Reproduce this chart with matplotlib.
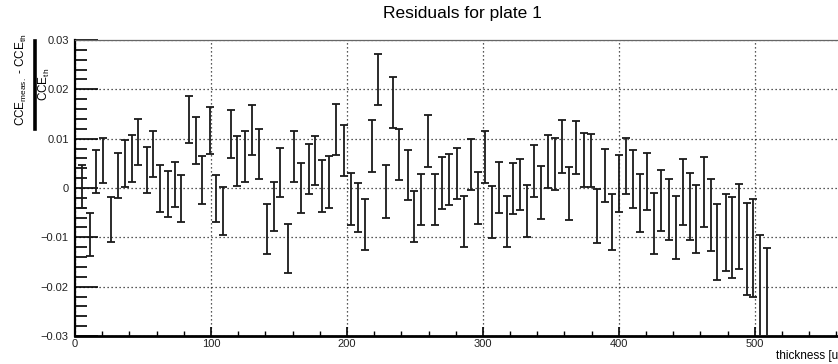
import matplotlib
matplotlib.use("Agg")
import matplotlib.pyplot as plt
from matplotlib.ticker import MultipleLocator, FixedLocator
from matplotlib.lines import Line2D

plt.rcParams['font.family'] = ['Liberation Sans', 'DejaVu Sans']
plt.rcParams['mathtext.fontset'] = 'custom'
plt.rcParams['mathtext.rm'] = 'Liberation Sans'
plt.rcParams['mathtext.it'] = 'Liberation Sans:italic'

# ---- data ----
thickness = [5.1, 11.2, 15.7, 20.6, 26.5, 31.6, 37.0, 41.9, 46.7, 52.9,
             57.3, 62.2, 68.1, 73.2, 78.1, 83.5, 88.9, 93.3, 99.4, 103.9,
             109.2, 114.9, 119.5, 125.2, 130.1, 135.5, 141.0, 146.0, 150.9, 156.5,
             161.4, 166.1, 172.2, 176.6, 181.5, 187.1, 192.0, 197.9, 202.9, 208.0,
             213.4, 218.7, 223.1, 228.8, 234.2, 238.6, 244.7, 249.4, 254.5, 259.9,
             264.8, 270.2, 275.3, 280.6, 286.3, 291.3, 296.2, 301.6, 306.5, 311.8,
             317.5, 321.9, 327.3, 332.6, 337.8, 342.7, 348.1, 353.0, 357.9, 363.5,
             368.4, 374.5, 379.2, 383.7, 389.8, 394.7, 400.0, 405.2, 410.6, 415.5,
             420.8, 426.0, 430.9, 436.8, 441.7, 447.3, 452.2, 456.6, 462.7, 467.4,
             472.3, 478.5, 483.3, 488.2, 493.9, 498.8, 503.7, 509.3]

residual = [0.0003, -0.0094, 0.0034, 0.0056, -0.0064, 0.0025, 0.0050, 0.0060, 0.0093, 0.0036,
            0.0069, -0.0001, -0.0012, 0.0007, -0.0021, 0.0139, 0.0096, 0.0016, 0.0117, -0.0021,
            -0.0046, 0.0110, 0.0055, 0.0064, 0.0117, 0.0069, -0.0083, -0.0038, 0.0032, -0.0122,
            0.0064, 0.0000, 0.0038, 0.0056, 0.0004, 0.0012, 0.0118, 0.0076, -0.0022, -0.0040,
            -0.0074, 0.0085, 0.0220, -0.0007, 0.0173, 0.0068, 0.0027, -0.0058, -0.0023, 0.0095,
            -0.0023, 0.0010, 0.0017, 0.0029, -0.0068, 0.0047, -0.0020, 0.0063, -0.0049, 0.0001,
            -0.0068, -0.0001, 0.0007, -0.0046, 0.0035, -0.0009, 0.0054, 0.0048, 0.0084, -0.0011,
            0.0082, 0.0057, 0.0056, -0.0057, 0.0026, -0.0069, 0.0009, 0.0044, 0.0019, -0.0031,
            0.0013, -0.0072, -0.0025, -0.0043, -0.0080, -0.0008, -0.0038, -0.0062, -0.0008, -0.0054,
            -0.0110, -0.0090, -0.0101, -0.0078, -0.0124, -0.0122, -0.0211, -0.0262]

error = [0.0044, 0.0044, 0.0044, 0.0045, 0.0046, 0.0046, 0.0047, 0.0047, 0.0046, 0.0047,
         0.0047, 0.0047, 0.0047, 0.0046, 0.0048, 0.0048, 0.0048, 0.0048, 0.0048, 0.0048,
         0.0049, 0.0049, 0.0050, 0.0051, 0.0051, 0.0050, 0.0050, 0.0050, 0.0050, 0.0050,
         0.0051, 0.0050, 0.0051, 0.0050, 0.0052, 0.0052, 0.0052, 0.0052, 0.0052, 0.0050,
         0.0052, 0.0053, 0.0052, 0.0053, 0.0052, 0.0052, 0.0051, 0.0052, 0.0052, 0.0052,
         0.0052, 0.0053, 0.0052, 0.0052, 0.0052, 0.0052, 0.0052, 0.0053, 0.0053, 0.0052,
         0.0052, 0.0052, 0.0052, 0.0053, 0.0053, 0.0053, 0.0053, 0.0053, 0.0053, 0.0053,
         0.0054, 0.0054, 0.0054, 0.0054, 0.0054, 0.0056, 0.0057, 0.0057, 0.0059, 0.0059,
         0.0058, 0.0061, 0.0062, 0.0062, 0.0064, 0.0066, 0.0068, 0.0069, 0.0071, 0.0073,
         0.0077, 0.0078, 0.0082, 0.0086, 0.0093, 0.0099, 0.0115, 0.0140]

x_ticks = [0, 100, 200, 300, 400, 500]
x_tick_labels = ['0', '100', '200', '300', '400', '500']
y_ticks = [-0.03, -0.02, -0.01, 0.0, 0.01, 0.02, 0.03]
y_tick_labels = ['\u22120.03', '\u22120.02', '\u22120.01', '0', '0.01', '0.02', '0.03']

W, H = 838, 364
fig = plt.figure(figsize=(W / 100, H / 100), dpi=100)
ax = fig.add_axes([75 / W, (H - 336) / H, (850 - 75) / W, (336 - 40) / H])

ax.errorbar(thickness, residual, yerr=error, fmt='none', ecolor='#1a1a1a',
            elinewidth=1.3, capsize=2.6, capthick=1.3, zorder=3)

ax.set_xlim(0, 570)
ax.set_ylim(-0.03, 0.03)
ax.xaxis.set_major_locator(FixedLocator(x_ticks))
ax.set_xticklabels(x_tick_labels)
ax.yaxis.set_major_locator(FixedLocator(y_ticks))
ax.set_yticklabels(y_tick_labels)
ax.xaxis.set_minor_locator(MultipleLocator(20))
ax.yaxis.set_minor_locator(MultipleLocator(0.002))

ax.tick_params(axis='both', which='both', direction='in', top=False, right=False,
               labelsize=8, colors='black', labelcolor='#222222')
ax.tick_params(axis='y', which='major', length=16.5, width=1.2, pad=4.5)
ax.tick_params(axis='y', which='minor', length=8.3, width=1.2)
ax.tick_params(axis='x', which='major', length=6.5, width=1.2, pad=2)
ax.tick_params(axis='x', which='minor', length=3.3, width=1.0)

ax.grid(True, which='major', linestyle=(0, (1, 2.2)), color='#222222', linewidth=0.9, zorder=1)
ax.set_axisbelow(True)

ax.spines['left'].set_linewidth(1.6)
ax.spines['bottom'].set_linewidth(2.0)
ax.spines['top'].set_linewidth(0.9)
ax.spines['top'].set_color('#666666')
ax.spines['right'].set_visible(False)

fig.text(462 / W, 1 - 13.5 / H, 'Residuals for plate 1', ha='center', va='center', fontsize=12.5)
fig.text(851 / W, 1 - 356 / H, 'thickness [um]', ha='right', va='center', fontsize=8.5)

# y-axis title as a ROOT-like fraction
fig.text(21 / W, 1 - 80 / H, r'CCE$_{\mathrm{meas.}}$ - CCE$_{\mathrm{th}}$', rotation=90,
         ha='center', va='center', fontsize=8.5)
fig.add_artist(Line2D([35 / W, 35 / W], [1 - 41 / H, 1 - 129 / H], transform=fig.transFigure,
                      color='black', linewidth=2.6))
fig.text(44 / W, 1 - 84 / H, r'CCE$_{\mathrm{th}}$', rotation=90,
         ha='center', va='center', fontsize=8.5)

fig.savefig('out.png', dpi=100)
